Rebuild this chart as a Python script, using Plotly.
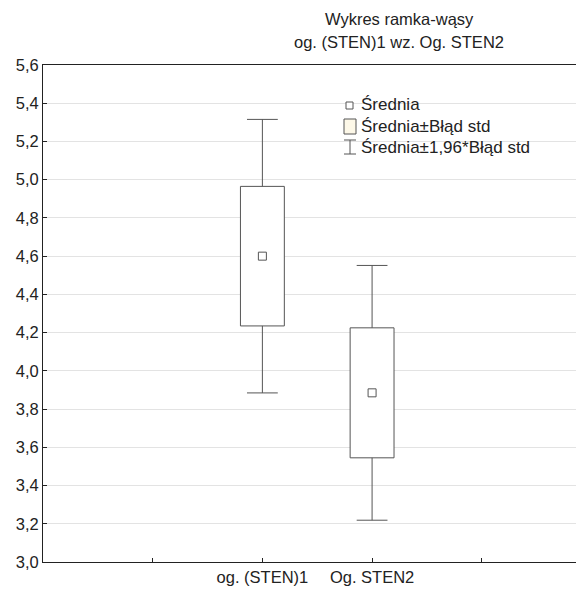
import plotly.graph_objects as go

categories = ["og. (STEN)1", "Og. STEN2"]
cat_pos = [1, 2]
means = [4.60, 3.885]
std_err = [0.365, 0.34]
title_lines = ["Wykres ramka-wąsy", "og. (STEN)1 wz. Og. STEN2"]
legend_labels = ["Średnia", "Średnia±Błąd std", "Średnia±1,96*Błąd std"]
y_ticks = [3.0, 3.2, 3.4, 3.6, 3.8, 4.0, 4.2, 4.4, 4.6, 4.8, 5.0, 5.2, 5.4, 5.6]

OFF = 8  # page body margin
W, H = 568, 581
ML, MR, MT, MB = 43 - OFF, 0, 65 - OFF, 27
FONT = "Liberation Sans, Arial, sans-serif"
FS = 16.5
LC = "#555555"

fig = go.Figure()

# whisker lines (from box edge to whisker end)
for c, m, s in zip(cat_pos, means, std_err):
    fig.add_trace(go.Scatter(
        x=[c, c, None, c, c],
        y=[m + s, m + 1.96 * s, None, m - s, m - 1.96 * s],
        mode="lines", line=dict(color=LC, width=1), showlegend=False, hoverinfo="skip"))
    fig.add_trace(go.Scatter(
        x=[c, c], y=[m + 1.96 * s, m - 1.96 * s], mode="markers",
        marker=dict(symbol="line-ew", size=22, line=dict(color=LC, width=1)),
        showlegend=False, hoverinfo="skip"))

# boxes: mean ± SE
fig.add_trace(go.Bar(
    x=cat_pos, y=[2 * s for s in std_err], base=[m - s for m, s in zip(means, std_err)],
    width=0.4, marker=dict(color="white", line=dict(color=LC, width=1)),
    showlegend=False))

# means
fig.add_trace(go.Scatter(
    x=cat_pos, y=means, mode="markers",
    marker=dict(symbol="square", size=8, color="white", line=dict(color=LC, width=1)),
    showlegend=False))

def px2paper_x(px):
    return (px - OFF - ML) / (W - ML - MR)

def px2paper_y(py):
    return (H - MB - (py - OFF)) / (H - MT - MB)

shapes = []
annotations = []
# title
for txt, yy in zip(title_lines, (19, 42)):
    annotations.append(dict(text=txt, x=px2paper_x(399), y=px2paper_y(yy), xref="paper", yref="paper",
                            showarrow=False, font=dict(family=FONT, size=FS, color="#222"),
                            xanchor="center", yanchor="middle"))

# legend (manual)
leg_y = [105, 126, 147]
for lab, yy in zip(legend_labels, leg_y):
    annotations.append(dict(text=lab, x=px2paper_x(359), y=px2paper_y(yy), xref="paper", yref="paper",
                            showarrow=False, xanchor="left", yanchor="middle",
                            font=dict(family=FONT, size=17, color="#222")))
shapes.append(dict(type="rect", xref="paper", yref="paper",
                   x0=px2paper_x(346), x1=px2paper_x(353), y0=px2paper_y(102), y1=px2paper_y(109),
                   line=dict(color=LC, width=1), fillcolor="white"))
shapes.append(dict(type="rect", xref="paper", yref="paper",
                   x0=px2paper_x(344), x1=px2paper_x(356), y0=px2paper_y(119), y1=px2paper_y(134),
                   line=dict(color=LC, width=1), fillcolor="#fdf8e8"))
shapes.append(dict(type="line", xref="paper", yref="paper",
                   x0=px2paper_x(350), x1=px2paper_x(350), y0=px2paper_y(140), y1=px2paper_y(154),
                   line=dict(color=LC, width=1)))
for yy in (140, 154):
    shapes.append(dict(type="line", xref="paper", yref="paper",
                       x0=px2paper_x(344), x1=px2paper_x(356), y0=px2paper_y(yy), y1=px2paper_y(yy),
                       line=dict(color=LC, width=1)))

fig.update_layout(
    width=W, height=H, margin=dict(l=ML, r=MR, t=MT, b=MB),
    paper_bgcolor="white", plot_bgcolor="white",
    separators=", ",
    font=dict(family=FONT, size=FS, color="#222"),
    shapes=shapes, annotations=annotations, showlegend=False,
    xaxis=dict(range=[-1, 3.859], tickvals=[0, 1, 2, 3],
               ticktext=[""] + categories + [""], automargin=False,
               showgrid=False, zeroline=False, showline=True, mirror=True,
               linecolor="#222", linewidth=1, ticks="inside", ticklen=4, tickcolor="#222",
               tickfont=dict(family=FONT, size=FS, color="#222")),
    yaxis=dict(range=[3.0, 5.6], tickvals=y_ticks, tickformat=".1f", automargin=False,
               showgrid=True, gridcolor="#e3e3e3", gridwidth=1, zeroline=False,
               showline=True, linecolor="#222", linewidth=1, mirror=False,
               ticks="inside", ticklen=4, tickcolor="#222",
               tickfont=dict(family=FONT, size=FS, color="#222")),
)

fig.write_html("out.html")
